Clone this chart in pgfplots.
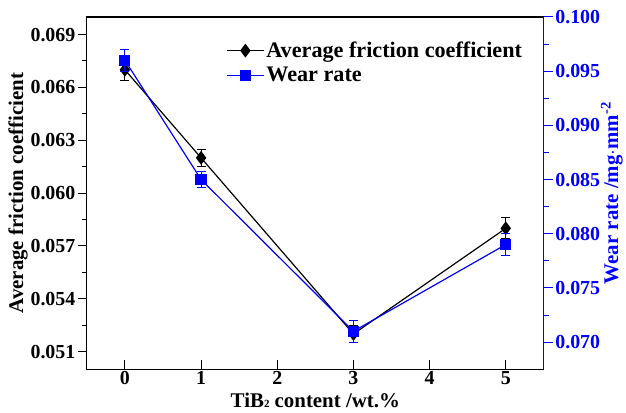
\documentclass[border=0pt]{standalone}
\usepackage{fontspec}
\setmainfont{Liberation Serif}
\usepackage{pgfplots}
\pgfplotsset{compat=1.18}
\definecolor{wblue}{RGB}{0,0,255}
\newcommand\tck{\fontsize{20}{22}\selectfont\bfseries}
\newcommand\lbl{\fontsize{21}{23}\selectfont\bfseries}
\newcommand\lgd{\fontsize{22.3}{23}\selectfont\bfseries}
\begin{document}
\begin{tikzpicture}
\begin{axis}[name=ax,
  scale only axis, width=458bp, height=353bp,
  xmin=-0.5, xmax=5.5,
  /pgf/number format/assume math mode=true,
  every tick label/.append style={font=\tck},
  every axis label/.append style={font=\lbl},
  major tick length=9bp, minor tick length=5bp,
  every tick/.style={line width=1pt},
  axis line style={line width=1.2pt},
  ymin=0.050, ymax=0.070,
  ytick={0.051,0.054,0.057,0.060,0.063,0.066,0.069},
  minor ytick={0.0525,0.0555,0.0585,0.0615,0.0645,0.0675},
  xtick={0,1,2,3,4,5},
  ytick pos=left, xtick pos=bottom,
  yticklabel style={/pgf/number format/fixed, /pgf/number format/fixed zerofill, /pgf/number format/precision=3, xshift=1bp},
  xticklabel style={yshift=1bp},
  scaled y ticks=false,
  ytick align=outside, xtick align=inside,
  xlabel={TiB{\fontsize{11}{11}\selectfont 2} content /wt.\%},
  ylabel={Average friction coefficient},
  xlabel style={at={(axis description cs:0.5,0)}, anchor=base, yshift=-38bp},
  ylabel shift=-4bp,
  legend style={at={(0.305,0.935)}, anchor=north west, draw=none, fill=none,
    font=\lgd, row sep=4bp, inner sep=0pt},
  legend cell align=left,
  legend image code/.code={\draw[mark repeat=2,mark phase=2] plot coordinates {(0cm,0cm)(0.65cm,0cm)(1.3cm,0cm)};},
]
\addplot[black, line width=1.2pt, mark=diamond*, mark size=6bp, mark options={solid, fill=black},
  error bars/.cd, y dir=both, y explicit,
  error bar style={line width=1pt, black},
  error mark options={rotate=90, mark size=4.5bp, line width=1pt, black}]
  coordinates {
  (0,0.0670) +- (0,0.0006)
  (1,0.0620) +- (0,0.0005)
  (3,0.0520) +- (0,0.0005)
  (5,0.0580) +- (0,0.0006)
};
\addlegendentry{Average friction coefficient}
\addlegendimage{wblue, line width=1.2pt, mark=square*, mark size=5bp, mark options={solid, fill=wblue}}
\addlegendentry{Wear rate}
\end{axis}
\begin{axis}[
  scale only axis, width=458bp, height=353bp,
  xmin=-0.5, xmax=5.5,
  /pgf/number format/assume math mode=true,
  every tick label/.append style={font=\tck},
  every axis label/.append style={font=\lbl},
  major tick length=9bp, minor tick length=5bp,
  ymin=0.0675, ymax=0.100,
  axis x line=none,
  axis y line*=right,
  ytick={0.070,0.075,0.080,0.085,0.090,0.095,0.100},
  minor ytick={0.0725,0.0775,0.0825,0.0875,0.0925,0.0975},
  ytick align=outside,
  scaled y ticks=false,
  yticklabel style={/pgf/number format/fixed, /pgf/number format/fixed zerofill, /pgf/number format/precision=3, text=wblue, xshift=-1bp},
  y axis line style={wblue, line width=1.2pt},
  every y tick/.style={wblue, line width=1pt},
  every minor y tick/.style={wblue, line width=1pt},
  ylabel style={text=wblue},
  ylabel shift=-6bp,
  ylabel={Wear rate /mg$\cdot$mm\textsuperscript{-2}},
]
\addplot[wblue, line width=1.2pt, mark=square*, mark size=5bp, mark options={solid, fill=wblue},
  error bars/.cd, y dir=both, y explicit,
  error bar style={line width=1pt, wblue},
  error mark options={rotate=90, mark size=4.5bp, line width=1pt, wblue}]
  coordinates {
  (0,0.0960) +- (0,0.0010)
  (1,0.0850) +- (0,0.0007)
  (3,0.0710) +- (0,0.0010)
  (5,0.0790) +- (0,0.0010)
};
\end{axis}
\path (ax.south west) ++(-87bp,-43bp) coordinate (bl);
\path (ax.north east) ++(81bp,17bp) coordinate (tr);
\path (bl) rectangle (tr);
\end{tikzpicture}
\end{document}
